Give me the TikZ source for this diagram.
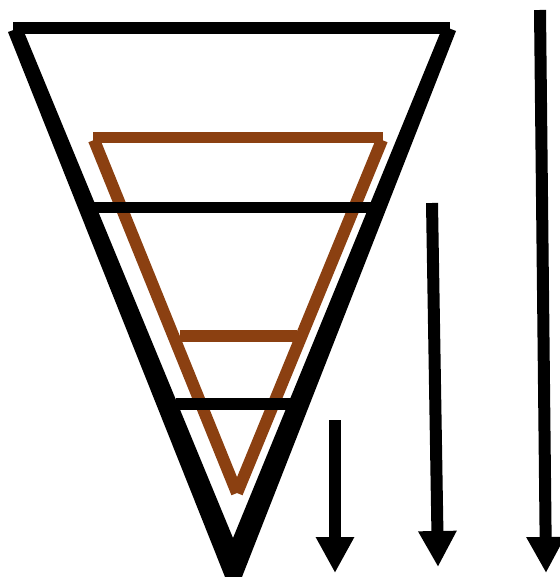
\documentclass[tikz,border=0pt]{standalone}
\usetikzlibrary{arrows.meta}
\definecolor{conebrown}{RGB}{139,64,17}

\begin{document}
\begin{tikzpicture}[x=1pt,y=-1pt,
    rim/.style={line width=12pt},
    inner/.style={draw=conebrown,line width=12pt},
    drop/.style={-{Triangle[length=36pt,width=36pt]},line width=12pt}]
    \useasboundingbox (0,0) rectangle (559,577);
    % outer cone
    \draw[rim] (13,28.5) -- (450,28.5);
    \fill (8,32) -- (227,582) -- (240,582) -- (456,31) -- (443,26)
          -- (233,538) -- (22,27) -- cycle;
    % brown cone
    \draw[inner,line width=11pt] (93,138) -- (383,138);
    \draw[inner] (94,140) -- (237,493);
    \draw[inner] (382,140) -- (237,493);
    \draw[inner] (180,336) -- (297,336);
    % cross bars
    \draw[rim,line width=11pt] (88,207.5) -- (375,207.5);
    \draw[rim] (176,404) -- (291,404);
    % arrows
    \foreach \n/\xs/\ys/\xe/\ye in {1/335/420/335/573,2/432/203/438/567,3/540/10/546/573} {
      \coordinate (top\n) at (\xs,\ys);
      \coordinate (tip\n) at (\xe,\ye);
      \draw[drop] (top\n) -- (tip\n);
    }
\end{tikzpicture}
\end{document}
